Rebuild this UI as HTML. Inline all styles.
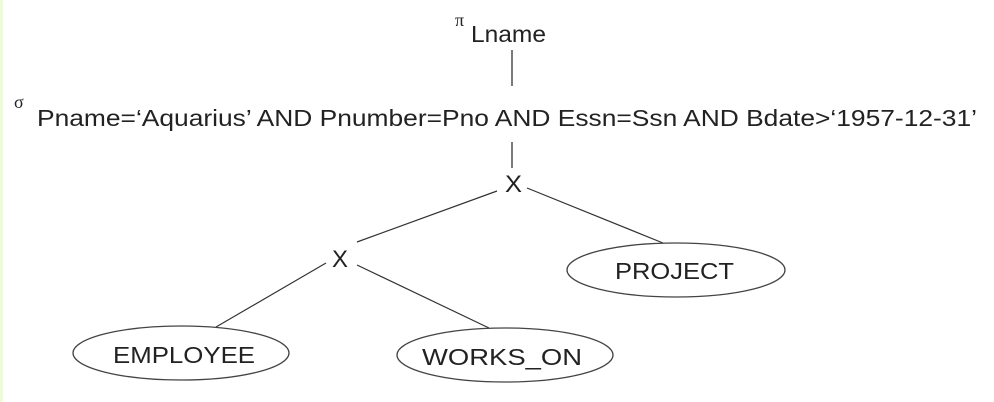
<!DOCTYPE html>
<html><head><meta charset="utf-8"><style>
html,body{margin:0;padding:0;background:#fff;}
svg{display:block;}
text{font-family:"Liberation Sans",Arial,sans-serif;fill:#222;}
</style></head><body>
<svg width="994" height="402" viewBox="0 0 994 402" xmlns="http://www.w3.org/2000/svg">
<rect x="0" y="0" width="994" height="402" fill="#fff"/>
<rect x="0" y="0" width="3" height="402" fill="#eefadc"/>
<text x="455" y="26" font-family="Liberation Serif,serif" font-size="18" style="font-family:'Liberation Serif',serif">π</text>
<text x="471" y="42" font-size="23" textLength="75" lengthAdjust="spacingAndGlyphs">Lname</text>
<line x1="512" y1="50" x2="512" y2="86" stroke="#333" stroke-width="1.3"/>
<text x="14" y="108" font-size="18" style="font-family:'Liberation Serif',serif">σ</text>
<text x="37" y="126" font-size="23" textLength="940" lengthAdjust="spacingAndGlyphs">Pname=‘Aquarius’ AND Pnumber=Pno AND Essn=Ssn AND Bdate&gt;‘1957-12-31’</text>
<line x1="512" y1="142" x2="512" y2="168" stroke="#333" stroke-width="1.3"/>
<text x="505" y="192" font-size="24" textLength="17" lengthAdjust="spacingAndGlyphs">X</text>
<line x1="497" y1="191" x2="357" y2="242" stroke="#333" stroke-width="1.2"/>
<line x1="527" y1="188" x2="663" y2="243" stroke="#333" stroke-width="1.2"/>
<text x="332" y="267" font-size="24" textLength="16" lengthAdjust="spacingAndGlyphs">X</text>
<line x1="326" y1="263" x2="216" y2="327" stroke="#333" stroke-width="1.2"/>
<line x1="357" y1="265" x2="489" y2="328" stroke="#333" stroke-width="1.2"/>
<ellipse cx="676" cy="270" rx="109" ry="27" fill="none" stroke="#444" stroke-width="1.3"/>
<text x="615" y="279" font-size="23" textLength="119" lengthAdjust="spacingAndGlyphs">PROJECT</text>
<ellipse cx="181" cy="353" rx="108" ry="27" fill="none" stroke="#444" stroke-width="1.3"/>
<text x="113" y="363" font-size="23" textLength="142" lengthAdjust="spacingAndGlyphs">EMPLOYEE</text>
<ellipse cx="505" cy="355" rx="108" ry="27" fill="none" stroke="#444" stroke-width="1.3"/>
<text x="422" y="365" font-size="23" textLength="160" lengthAdjust="spacingAndGlyphs">WORKS_ON</text>
</svg>
</body></html>
